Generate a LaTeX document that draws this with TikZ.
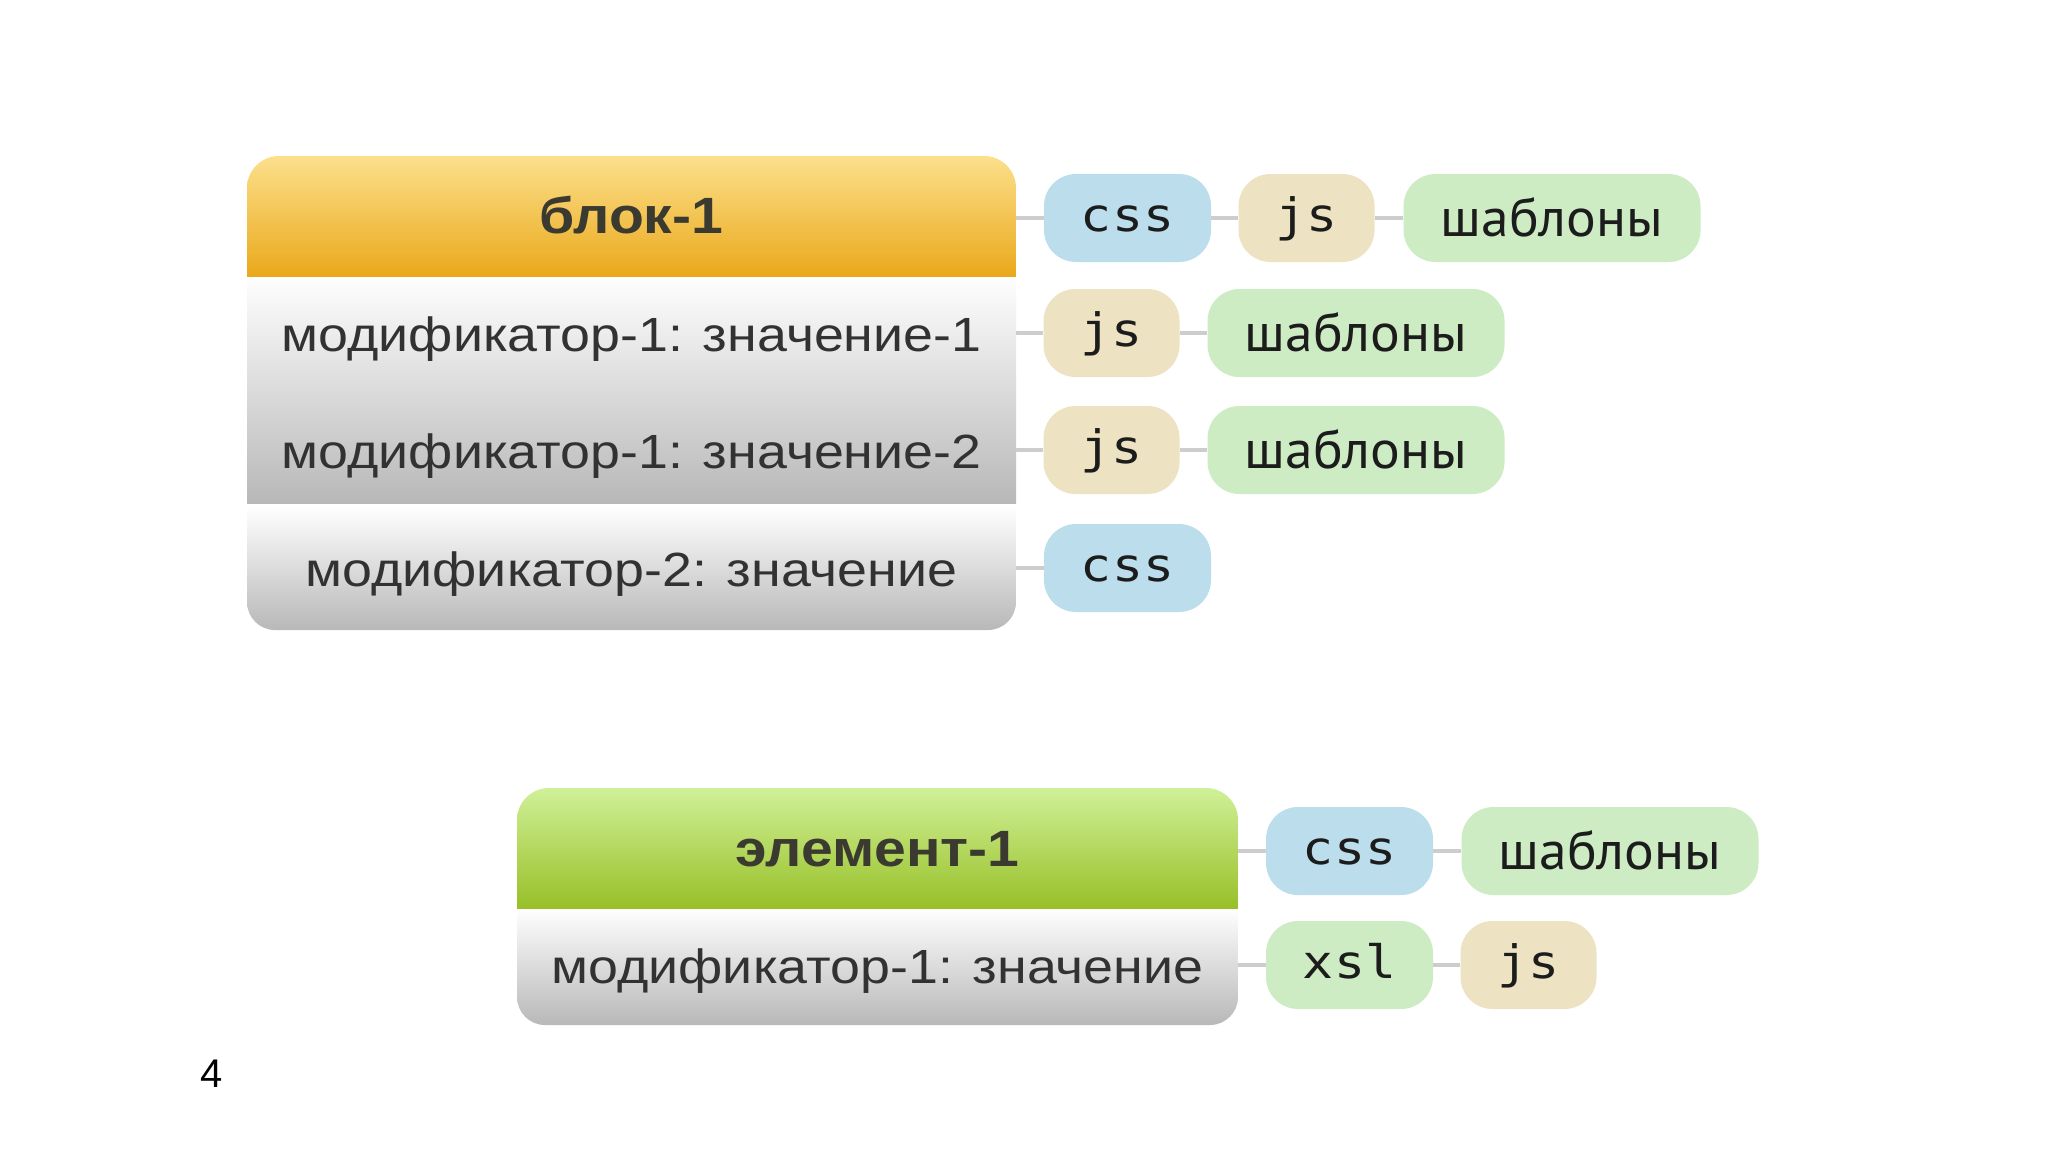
\documentclass[tikz,border=0pt]{standalone}
\usepackage{fontspec}
\newfontfamily\blkfont{Liberation Sans}[FakeStretch=1.12]
\newfontfamily\plainfont{Liberation Sans}
\newfontfamily\codefont{DejaVu Sans Mono}[FakeStretch=1.12]
\newfontfamily\tplfont{PT Sans}[FakeStretch=1.03]
\definecolor{hdrtop}{RGB}{252,224,140}
\definecolor{hdrbot}{RGB}{234,168,26}
\definecolor{grntop}{RGB}{208,240,152}
\definecolor{grnbot}{RGB}{152,192,40}
\definecolor{graytop}{RGB}{254,254,254}
\definecolor{graybot}{RGB}{184,184,184}
\definecolor{cssblue}{RGB}{187,221,236}
\definecolor{jsbeige}{RGB}{237,226,193}
\definecolor{tplgreen}{RGB}{205,236,196}
\definecolor{linkgray}{RGB}{205,205,205}
\definecolor{textgray}{RGB}{50,50,50}
\definecolor{hdrgray}{RGB}{58,58,48}
\definecolor{pilltext}{RGB}{28,28,28}
\begin{document}
\begin{tikzpicture}[x=0.5pt,y=-0.5pt,
  modtext/.style={inner sep=0pt, text height=18pt, text depth=0pt,
    font=\blkfont\fontsize{24}{29}\selectfont, text=textgray},
  hdrtext/.style={inner sep=0pt, text height=15.5pt, text depth=0pt,
    font=\blkfont\bfseries\fontsize{25.5}{30}\selectfont, text=hdrgray},
  pill/.style={rounded corners=16pt, minimum height=44pt, inner sep=0pt, text=pilltext},
  codepill/.style={pill, font=\codefont\fontsize{23}{27}\selectfont,
    text height=13.5pt, text depth=0pt},
  csspill/.style={codepill, fill=cssblue, minimum width=83.5pt},
  jspill/.style={codepill, fill=jsbeige, minimum width=68pt},
  xslpill/.style={codepill, fill=tplgreen, minimum width=83.5pt},
  tplpill/.style={pill, fill=tplgreen, minimum width=148.5pt,
    font=\tplfont\fontsize{27}{32}\selectfont, text height=18pt, text depth=0pt},
  link/.style={draw=linkgray, line width=1.75pt}
]
\useasboundingbox (0,0) rectangle (2048,1152);
\fill[white] (0,0) rectangle (2048,1152);

% ---- block-1 shapes
\begin{scope}
  \clip[rounded corners=16pt] (247,156) rectangle (1016,330);
  \shade[top color=hdrtop, bottom color=hdrbot] (247,156) rectangle (1016,277);
\end{scope}
\shade[top color=graytop, bottom color=graybot] (247,277) rectangle (1016,503);
\begin{scope}
  \clip[rounded corners=14pt] (247,470) rectangle (1016,630);
  \shade[top color=graytop, bottom color=graybot] (247,508) rectangle (1016,630);
\end{scope}

% ---- element-1 shapes
\begin{scope}
  \clip[rounded corners=16pt] (517,788) rectangle (1238,960);
  \shade[top color=grntop, bottom color=grnbot] (517,788) rectangle (1238,908);
\end{scope}
\begin{scope}
  \clip[rounded corners=14pt] (517,870) rectangle (1238,1025);
  \shade[top color=graytop, bottom color=graybot] (517,909) rectangle (1238,1025);
\end{scope}

% ---- block texts
\node[hdrtext, minimum width=384.5pt] (b1) at (631.5,218) {блок-1};
\node[modtext, minimum width=384.5pt] (m11) at (631.5,333) {модификатор-1: значение-1};
\node[modtext, minimum width=384.5pt] (m12) at (631.5,450) {модификатор-1: значение-2};
\node[modtext, minimum width=384.5pt] (m2) at (631.5,568) {модификатор-2: значение};
\node[hdrtext, minimum width=360.5pt] (e1) at (877.5,851) {элемент-1};
\node[modtext, minimum width=360.5pt] (em1) at (877.5,965) {модификатор-1: значение};

% ---- pills
\node[csspill] (css1) at (1127.5,218) {css};
\node[jspill]  (js1)  at (1306.5,218) {js};
\node[tplpill] (tpl1) at (1552,218) {шаблоны};
\node[jspill]  (js2)  at (1111.5,333) {js};
\node[tplpill] (tpl2) at (1356,333) {шаблоны};
\node[jspill]  (js3)  at (1111.5,450) {js};
\node[tplpill] (tpl3) at (1356,450) {шаблоны};
\node[csspill] (css4) at (1127.5,568) {css};
\node[csspill] (css5) at (1349.5,851) {css};
\node[tplpill] (tpl5) at (1610,851) {шаблоны};
\node[xslpill] (xsl6) at (1349.5,965) {xsl};
\node[jspill]  (js6)  at (1528.5,965) {js};

% ---- connectors
\draw[link] (b1.east) -- (css1.west);
\draw[link] (css1.east) -- (js1.west);
\draw[link] (js1.east) -- (tpl1.west);
\draw[link] (m11.east) -- (js2.west);
\draw[link] (js2.east) -- (tpl2.west);
\draw[link] (m12.east) -- (js3.west);
\draw[link] (js3.east) -- (tpl3.west);
\draw[link] (m2.east) -- (css4.west);
\draw[link] (e1.east) -- (css5.west);
\draw[link] (css5.east) -- (tpl5.west);
\draw[link] (em1.east) -- (xsl6.west);
\draw[link] (xsl6.east) -- (js6.west);

% ---- page number
\node[font=\plainfont\fontsize{20}{24}\selectfont, inner sep=0pt] (pg) at (212,1074) {4};
\end{tikzpicture}
\end{document}
